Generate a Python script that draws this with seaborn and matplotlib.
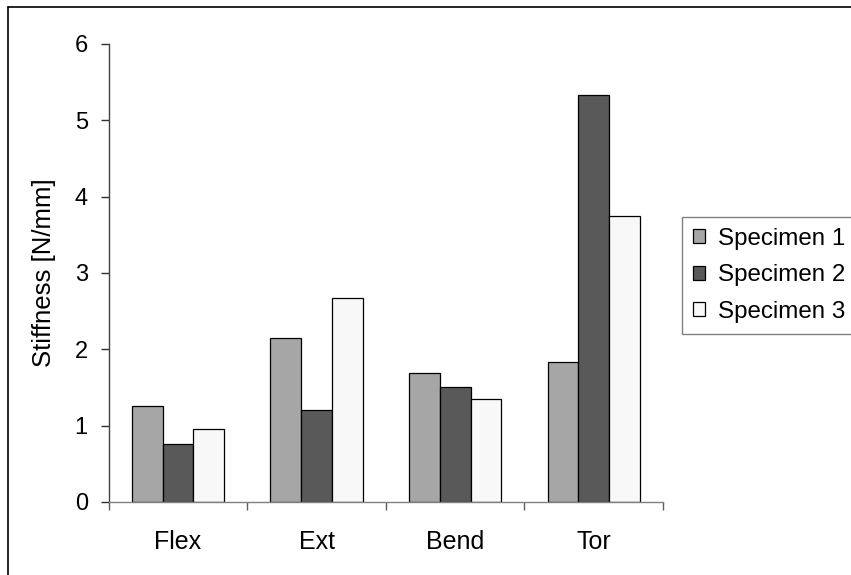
import pandas as pd
import seaborn as sns
import matplotlib.pyplot as plt
from matplotlib.lines import Line2D

motions = ['Flex', 'Ext', 'Bend', 'Tor']
specimens = ['Specimen 1', 'Specimen 2', 'Specimen 3']
specimen_1 = [1.26, 2.15, 1.69, 1.83]
specimen_2 = [0.76, 1.21, 1.50, 5.33]
specimen_3 = [0.95, 2.67, 1.35, 3.74]
colors = ['#a6a6a6', '#595959', '#f8f8f8']

rows = []
for name, vals in zip(specimens, [specimen_1, specimen_2, specimen_3]):
    for m, v in zip(motions, vals):
        rows.append({'Motion': m, 'Specimen': name, 'Stiffness': v})
df = pd.DataFrame(rows)

sns.set_style('ticks')
plt.rcParams['font.family'] = ['Liberation Sans', 'DejaVu Sans']
plt.rcParams['text.color'] = 'black'
plt.rcParams['axes.labelcolor'] = 'black'
plt.rcParams['xtick.labelcolor'] = 'black'
plt.rcParams['ytick.labelcolor'] = 'black'

fig = plt.figure(figsize=(8.51, 5.75), dpi=100)
ax = fig.add_axes([0.1277, 0.127, 0.6514, 0.7965])
sns.barplot(data=df, x='Motion', y='Stiffness', hue='Specimen', palette=colors,
            width=2/3, edgecolor='black', linewidth=0.9, saturation=1, ax=ax)

ax.set_xlim(-0.5, 3.5)
ax.set_ylim(0, 6)
ax.set_yticks(range(7))
ax.set_xticks([-0.5, 0.5, 1.5, 2.5, 3.5], minor=True)
ax.tick_params(axis='x', which='major', length=0, pad=20, labelsize=18)
ax.tick_params(axis='x', which='minor', length=6, width=1, color='#606060')
ax.tick_params(axis='y', length=6, width=1, pad=9, labelsize=17, color='#303030')
ax.set_xlabel('')
ax.set_ylabel('Stiffness [N/mm]', fontsize=18.5)
ax.yaxis.set_label_coords(-0.095, 0.5)

sns.despine(ax=ax)
ax.spines['left'].set_color('#404040')
ax.spines['bottom'].set_color('#808080')
ax.spines['left'].set_linewidth(1)
ax.spines['bottom'].set_linewidth(1)

handles, labels = ax.get_legend_handles_labels()
ax.get_legend().remove()
leg = fig.legend(handles, labels, loc='upper left', bbox_to_anchor=(682 / 851, 1 - 217 / 575),
                 fontsize=17.4, frameon=True, fancybox=False, edgecolor='#808080', framealpha=1,
                 handlelength=0.5, handleheight=0.5, handletextpad=0.55, borderpad=0.45,
                 labelspacing=0.6, borderaxespad=0)
leg.get_frame().set_linewidth(1)

# outer chart border (right and bottom edges fall outside the picture)
fig.add_artist(Line2D([8 / 851, 8 / 851], [0, 1 - 7 / 575], color='black', lw=1.2))
fig.add_artist(Line2D([8 / 851, 1], [1 - 7 / 575, 1 - 7 / 575], color='black', lw=1.2))

fig.savefig('out.png', dpi=100)
